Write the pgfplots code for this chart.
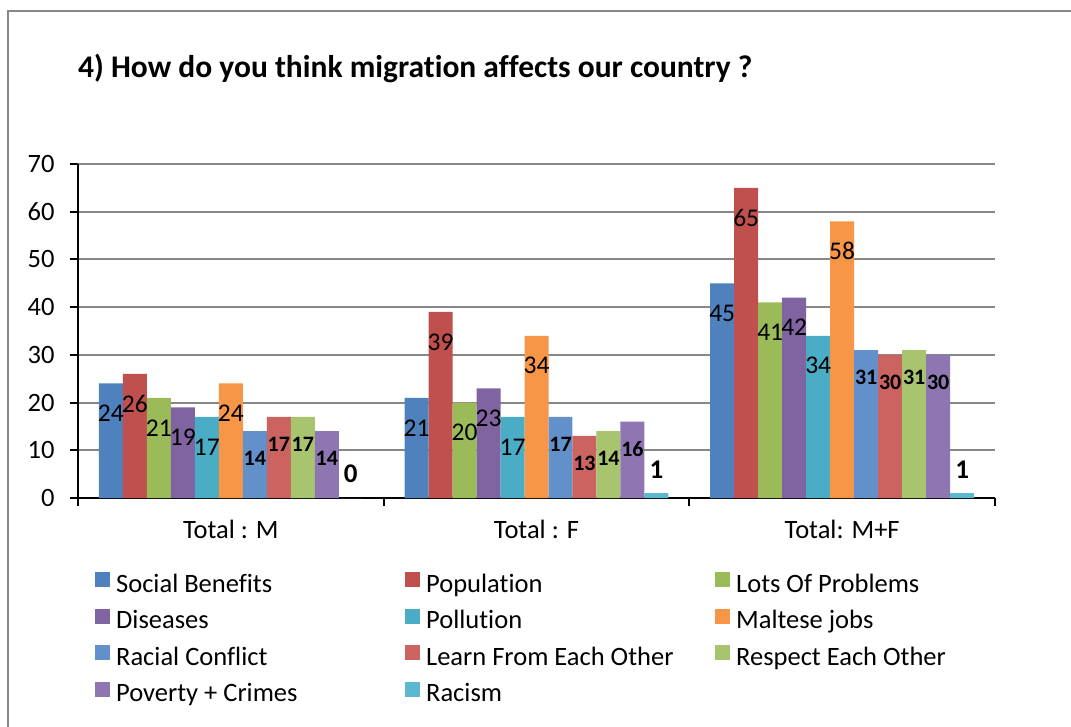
\documentclass[border=0pt]{standalone}
\usepackage{fontspec}
\setmainfont{Carlito}[Ligatures={NoCommon,NoRequired,NoContextual}]
\usepackage{pgfplots}
\pgfplotsset{compat=1.18}
\definecolor{c1}{HTML}{4F81BD}
\definecolor{c2}{HTML}{C0504D}
\definecolor{c3}{HTML}{9BBB59}
\definecolor{c4}{HTML}{8064A2}
\definecolor{c5}{HTML}{4BACC6}
\definecolor{c6}{HTML}{F79646}
\definecolor{c7}{HTML}{6190CB}
\definecolor{c8}{HTML}{CB6461}
\definecolor{c9}{HTML}{A8C46E}
\definecolor{c10}{HTML}{8D76B1}
\definecolor{c11}{HTML}{5CB8D0}
\definecolor{gridgray}{HTML}{878787}
\begin{document}
\begin{tikzpicture}[x=1pt,y=1pt]
\useasboundingbox (0,0) rectangle (1071,-726);
\begin{scope}
\clip (0,0) rectangle (1071,-726);
\draw[gridgray, line width=2pt] (8,-11) rectangle (1100,-760);
\end{scope}
\node[anchor=base west, font=\bfseries\fontsize{31.5}{36}\selectfont, inner sep=0pt] at (78,-77) {4) How do you think migration affects our country ?};
\begin{axis}[
  at={(78pt,-498pt)}, anchor=south west,
  scale only axis, width=917pt, height=334pt,
  ybar=0pt, bar width=0.0785,
  xmin=-0.5, xmax=2.5, ymin=0, ymax=70,
  xtick={0,1,2}, xticklabels={Total : M, Total : F, Total: M+F},
  minor xtick={-0.5,0.5,1.5,2.5},
  ytick={0,10,...,70},
  axis x line*=bottom, axis y line*=left,
  tick align=outside,
  major tick length=8pt, minor tick length=8pt,
  major x tick style={draw=none},
  ymajorgrids,
  major grid style={color=gridgray, line width=2pt},
  axis line style={line width=2pt, black},
  every tick/.style={line width=2pt, black},
  minor tick style={line width=2pt, black},
  /pgf/number format/assume math mode=true,
  tick label style={font=\fontsize{26.5}{30}\selectfont},
  xticklabel style={yshift=-11pt},
  yticklabel style={xshift=-12pt},
  legend columns=3,
  legend style={draw=none, fill=none, inner sep=0pt,
    at={(axis description cs:0.0185,-0.2216)}, anchor=north west,
    font=\fontsize{26.5}{30}\selectfont,
    row sep=10.5pt, column sep=6pt,
    nodes={inner sep=0pt, text height=18pt, text depth=6pt}},
  legend image code/.code={\fill[#1] (0pt,-1pt) rectangle (15pt,14pt);},
  nlab/.style={nodes near coords, every node near coord/.append style={anchor=center, yshift=-30pt, font=\fontsize{25.5}{29}\selectfont, text=black}},
  blab/.style={nodes near coords, every node near coord/.append style={anchor=center, yshift=-27pt, font=\bfseries\fontsize{22}{26}\selectfont, text=black}},
  tlab/.style={nodes near coords, every node near coord/.append style={anchor=center, yshift=24pt, font=\bfseries\fontsize{27}{31}\selectfont, text=black}},
]
\addplot[fill=c1, draw=none, nlab] coordinates {(0,24) (1,21) (2,45)};
\addlegendentry{\makebox[283pt][l]{Social Benefits}}
\addplot[fill=c2, draw=none, nlab] coordinates {(0,26) (1,39) (2,65)};
\addlegendentry{\makebox[283pt][l]{Population}}
\addplot[fill=c3, draw=none, nlab] coordinates {(0,21) (1,20) (2,41)};
\addlegendentry{\makebox[283pt][l]{Lots Of Problems}}
\addplot[fill=c4, draw=none, nlab] coordinates {(0,19) (1,23) (2,42)};
\addlegendentry{\makebox[283pt][l]{Diseases}}
\addplot[fill=c5, draw=none, nlab] coordinates {(0,17) (1,17) (2,34)};
\addlegendentry{\makebox[283pt][l]{Pollution}}
\addplot[fill=c6, draw=none, nlab] coordinates {(0,24) (1,34) (2,58)};
\addlegendentry{\makebox[283pt][l]{Maltese jobs}}
\addplot[fill=c7, draw=none, blab] coordinates {(0,14) (1,17) (2,31)};
\addlegendentry{\makebox[283pt][l]{Racial Conflict}}
\addplot[fill=c8, draw=none, blab] coordinates {(0,17) (1,13) (2,30)};
\addlegendentry{\makebox[283pt][l]{Learn From Each Other}}
\addplot[fill=c9, draw=none, blab] coordinates {(0,17) (1,14) (2,31)};
\addlegendentry{\makebox[283pt][l]{Respect Each Other}}
\addplot[fill=c10, draw=none, blab] coordinates {(0,14) (1,16) (2,30)};
\addlegendentry{\makebox[283pt][l]{Poverty + Crimes}}
\addplot[fill=c11, draw=none, tlab] coordinates {(0,0) (1,1) (2,1)};
\addlegendentry{\makebox[283pt][l]{Racism}}
\end{axis}
\end{tikzpicture}
\end{document}
